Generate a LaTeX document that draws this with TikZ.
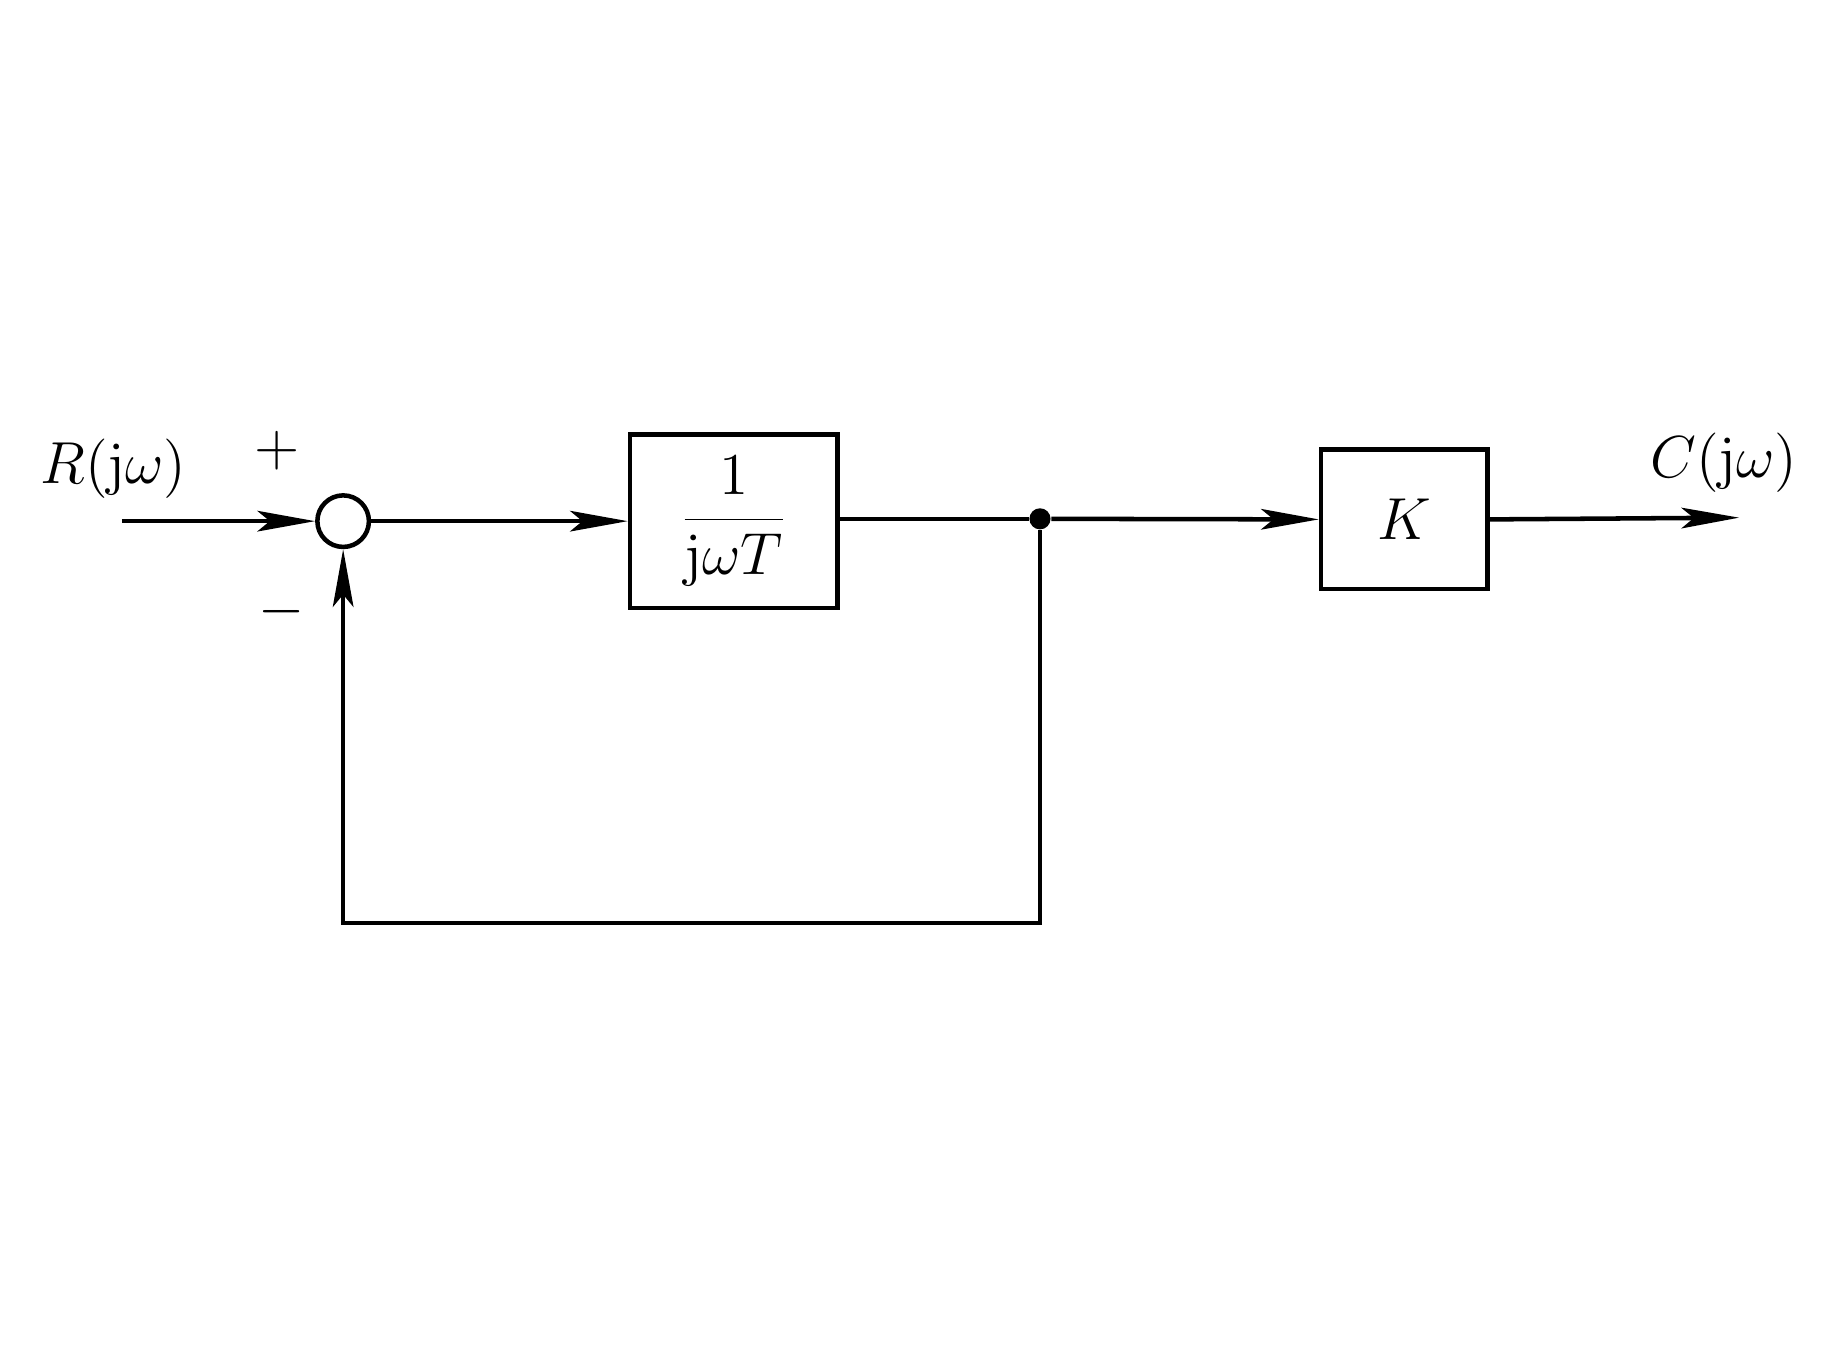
\documentclass[tikz,border=0pt]{standalone}
\usetikzlibrary{arrows.meta}
\begin{document}
\begin{tikzpicture}[x=0.01cm,y=-0.01cm,
  every node/.style={font=\fontsize{15}{18}\selectfont},
  ln/.style={line width=1.1pt},
  blk/.style={draw,line width=1.1pt,inner sep=0pt},
  arr/.style={ln,-{Stealth[length=14pt,width=5pt,inset=3pt]}}]
\useasboundingbox (0,0) rectangle (1560,1155);
\node[blk,minimum width=1.77cm,minimum height=1.48cm] (b1) at (626.5,445) {$\displaystyle\frac{1}{\mathrm{j}\omega T}$};
\node[blk,minimum width=1.42cm,minimum height=1.19cm] (k) at (1199,443.5) {$K$};
\node[blk,circle,minimum size=0.44cm] (s) at (293,445) {};
\node[circle,fill,inner sep=0pt,minimum size=0.18cm] (j) at (888,443) {};
\coordinate (in) at (104,445);
\coordinate (out) at (1485,442);
\coordinate (c1) at (888,788);
\coordinate (c2) at (293,788);
\node at (97,400) {$R(\mathrm{j}\omega)$};
\node at (1472,395) {$C(\mathrm{j}\omega)$};
\node at (237,385) {$+$};
\node at (240,522) {$-$};
\draw[arr] (in) -- (s.west);
\draw[arr] (s.east) -- (b1.west);
\draw[ln] (b1.east |- j) -- (j);
\draw[arr] (j) -- (k.west);
\draw[arr] (k.east) -- (out);
\draw[arr] (j) -- (c1) -- (c2) -- (s.south);
\end{tikzpicture}
\end{document}
